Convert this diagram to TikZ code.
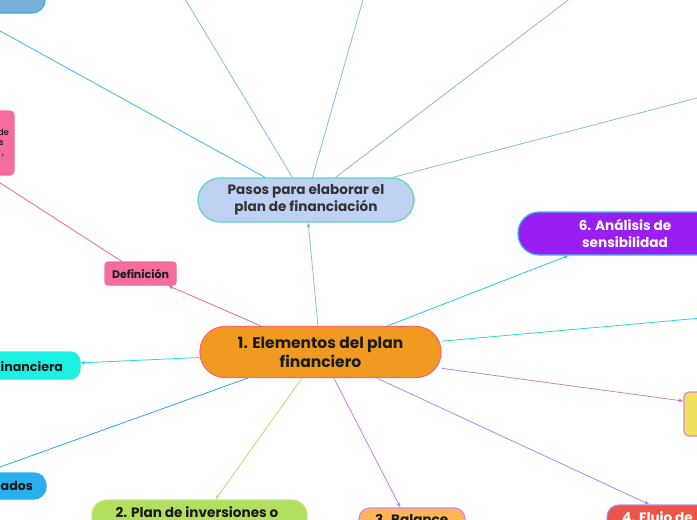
\documentclass[tikz,border=0pt]{standalone}
\usepackage{fontspec}
\setmainfont{Poppins}
\usetikzlibrary{arrows.meta}
\definecolor{cOrange}{HTML}{F09A22}
\definecolor{cOrangeB}{HTML}{F36A6A}
\definecolor{cPasos}{HTML}{BFD2F3}
\definecolor{cPasosB}{HTML}{5DD8B8}
\definecolor{cPink}{HTML}{F56C9F}
\definecolor{cPurple}{HTML}{9A1DF2}
\definecolor{cPurpleB}{HTML}{35C0E5}
\definecolor{cCyan}{HTML}{1CF0E2}
\definecolor{cBlue}{HTML}{27AFF0}
\definecolor{cTopBox}{HTML}{7AAFD9}
\definecolor{cTopBoxB}{HTML}{3AAAEA}
\definecolor{cYellow}{HTML}{F0E05E}
\definecolor{cYellowB}{HTML}{D48CD4}
\definecolor{cGreen}{HTML}{B2E05E}
\definecolor{cGreenB}{HTML}{C2E88A}
\definecolor{cBal}{HTML}{FFB458}
\definecolor{cBalB}{HTML}{C98BEA}
\definecolor{cRed}{HTML}{EE5347}
\definecolor{cRedB}{HTML}{9C90F5}
\definecolor{cText}{HTML}{1A1A1A}
\definecolor{cTextP}{HTML}{333333}
\definecolor{lPasos}{HTML}{8DB9DD}
\definecolor{lTop}{HTML}{45B5EE}
\definecolor{lDef}{HTML}{F0649A}
\definecolor{lFin}{HTML}{2ED8D8}
\definecolor{lAdos}{HTML}{2AA8EC}
\definecolor{lPlan}{HTML}{B5E26A}
\definecolor{lBal}{HTML}{C47FEE}
\definecolor{lFlujo}{HTML}{9F8FF5}
\definecolor{lYel}{HTML}{C583CC}
\definecolor{lRight}{HTML}{25D9D6}
\definecolor{lSix}{HTML}{25C9D2}
\tikzset{
  box/.style={draw, line width=1.2pt, inner sep=0pt, align=center, font=\bfseries},
  conn/.style={line width=0.8pt, -{Stealth[length=5pt,width=4pt]}},
  lbl/.style={inner sep=0pt, font=\bfseries},
  mid/.style={font=\bfseries\fontsize{13.6}{17}\selectfont},
}
\begin{document}
\begin{tikzpicture}[x=1pt,y=-1pt]
\useasboundingbox (0,0) rectangle (697,520);
\fill[white] (0,0) rectangle (697,520);
\clip (0,0) rectangle (697,520);

% offscreen target coordinates
\coordinate (p1) at (164,-36);
\coordinate (p2) at (370,-25);
\coordinate (p3) at (601,-25);
\coordinate (p4) at (760,81.6);
\coordinate (p5) at (-40,8.8);
\coordinate (d1) at (-40,157);
\coordinate (r1) at (760,312.8);

% nodes
\node[box, fill=cOrange, draw=cOrangeB, minimum width=241pt, minimum height=51pt, rounded corners=25pt,
      font=\bfseries\fontsize{15.5}{19}\selectfont, text=cText] (central) at (320.5,352) {1. Elementos del plan\\financiero};
\node[box, fill=cPasos, draw=cPasosB, minimum width=216pt, minimum height=44pt, rounded corners=22pt,
      mid, text=cTextP] (pasos) at (306,200) {Pasos para elaborar el\\plan de financiación};
\node[box, fill=cPink, draw=cPink, minimum width=71pt, minimum height=23pt, rounded corners=3pt,
      font=\bfseries\fontsize{11}{13}\selectfont, text=cText] (def) at (140.5,273.5) {Definición};
\node[box, fill=cPink, draw=cPink, minimum width=74pt, minimum height=64pt, rounded corners=4pt] (pinkL) at (-23,143) {};
\node[box, fill=cTopBox, draw=cTopBoxB, minimum width=146pt, minimum height=44pt, rounded corners=13pt] (topL) at (-28,-9) {};
\node[box, fill=cCyan, draw=cCyan, minimum width=114pt, minimum height=27pt, rounded corners=10pt] (fin) at (23,365.5) {};
\node[box, fill=cBlue, draw=cBlue, minimum width=198pt, minimum height=26pt, rounded corners=12pt] (ados) at (-53,486) {};
\node[box, fill=cPurple, draw=cPurpleB, minimum width=214pt, minimum height=43pt, rounded corners=21pt,
      mid, text=white] (six) at (625,233.5) {6. Análisis de\\sensibilidad};
\node[box, fill=cYellow, draw=cYellowB, minimum width=192pt, minimum height=44pt, rounded corners=5pt] (yel) at (780,414) {};
\node[box, fill=cGreen, draw=cGreenB, minimum width=215pt, minimum height=44pt, rounded corners=15pt] (plan) at (199.5,522) {};
\node[box, fill=cBal, draw=cBalB, minimum width=106pt, minimum height=44pt, rounded corners=11pt] (bal) at (412,530) {};
\node[box, fill=cRed, draw=cRedB, minimum width=182pt, minimum height=44pt, rounded corners=12pt] (flujo) at (698,527) {};

% partial labels
\node[lbl, font=\fontsize{8.5}{10}\selectfont, anchor=east] (pk1) at (9,132) {de};
\node[lbl, font=\fontsize{8.5}{10}\selectfont, anchor=east] (pk2) at (4,143.5) {s};
\node[lbl, font=\fontsize{8.5}{10}\selectfont, anchor=east] (pk3) at (4,156) {,};
\node[lbl, font=\bfseries\fontsize{12.6}{15}\selectfont, text=cText, anchor=west] (fint) at (0.5,366) {inanciera};
\node[lbl, font=\bfseries\fontsize{12.6}{15}\selectfont, text=cText, anchor=west] (adost) at (0.5,486) {ados};
\node[lbl, mid, text=cText, anchor=north] (plant) at (197,506.5) {2. Plan de inversiones o};
\node[lbl, mid, text=cText, anchor=north west] (balt) at (375,514) {3. Balance};
\node[lbl, mid, text=white, anchor=north west] (flujot) at (622,511) {4. Flujo de};

% connectors
\draw[conn, lPasos] (central) -- (pasos);
\draw[conn, lDef] (central) -- (def);
\draw[conn, lFin] (central) -- (fin);
\draw[conn, lAdos] (central) -- (ados);
\draw[conn, lPlan] (central) -- (plan);
\draw[conn, lBal] (central) -- (bal);
\draw[conn, lFlujo] (central) -- (flujo);
\draw[conn, lYel] (central) -- (yel);
\draw[conn, lRight] (central) -- (r1);
\draw[conn, lSix] (central) -- (six);
\draw[conn, lPasos] (pasos) -- (p1);
\draw[conn, lPasos] (pasos) -- (p2);
\draw[conn, lPasos] (pasos) -- (p3);
\draw[conn, lPasos] (pasos) -- (p4);
\draw[conn, lTop] (pasos) -- (p5);
\draw[conn, lDef] (def) -- (d1);
\end{tikzpicture}
\end{document}
